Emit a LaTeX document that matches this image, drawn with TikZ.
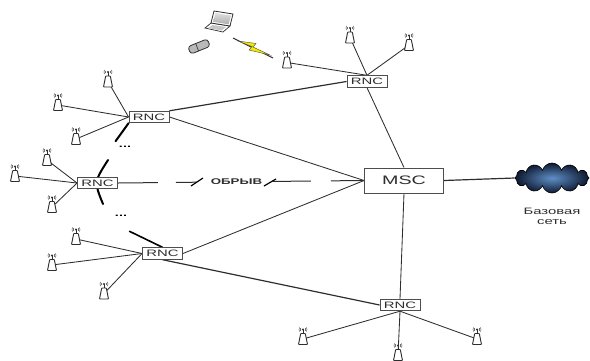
\documentclass[tikz,border=0pt]{standalone}
\usepackage{fontspec}
\newfontfamily\widefont[FakeStretch=1.6]{Liberation Sans}
\usetikzlibrary{positioning,backgrounds,shapes.symbols}

\definecolor{ink}{HTML}{2E2E2E}
\definecolor{stormA}{HTML}{5F8FC8}
\definecolor{stormB}{HTML}{0E1930}
\definecolor{bolt}{HTML}{F4E800}

\begin{document}
\begin{tikzpicture}[x=1pt,y=-1pt,
  rnc/.style={draw=ink!85,fill=white,line width=.9pt,minimum width=40pt,minimum height=11.5pt,
    inner sep=0pt,text=ink,font=\widefont\fontsize{9.3}{10}\selectfont},
  link/.style={draw=ink,line width=.85pt},
  trunk/.style={draw=ink,line width=1.2pt},
  cut/.style={draw=black,line width=2pt,line cap=round},
  ant/.pic={
    \coordinate (-c) at (0,0);
    \draw[ink,line width=.9pt,fill=white,rounded corners=.6pt]
      (-2.3,-5.5) -- (2.3,-5.5) -- (4.5,5.5) -- (-4.5,5.5) -- cycle;
    \draw[ink,line width=1pt] (0,-5.5) -- (0,-9.5);
    \fill[ink] (0,-9.5) circle (1.2);
    \foreach \r in {2.6,4}{
      \draw[ink!70,line width=.6pt] (0,-9.5) ++(150:\r) arc (150:210:\r);
      \draw[ink!70,line width=.6pt] (0,-9.5) ++(-30:\r) arc (-30:30:\r);
    }
  }]
  \useasboundingbox (0,0) rectangle (590,360);

  % core and network
  \node[draw=ink!85,fill=white,line width=.9pt,minimum width=79pt,minimum height=25pt,
    text=ink,font=\widefont\fontsize{12.3}{13}\selectfont] (msc) at (404,180.5) {MSC};
  \node[cloud,cloud puffs=12,aspect=2.6,minimum width=74pt,minimum height=30pt,inner sep=0pt,
    draw=black,line width=.6pt,inner color=stormA,outer color=stormB] (net) at (552,178) {};
  \node[below=11pt of net,align=center,text=ink,
    font=\widefont\fontsize{9.3}{10.5}\selectfont] (lbl) {Базовая\\сеть};

  % controllers
  \node[rnc] (rt) at (367,81.5) {RNC};
  \node[rnc] (rl) at (149,117) {RNC};
  \node[rnc] (rm) at (97.5,183) {RNC};
  \node[rnc] (rb) at (162.5,253.5) {RNC};
  \node[rnc] (rd) at (400,305) {RNC};

  % base stations
  \pic (t1) at (350,37.5) {ant};
  \pic (t2) at (409,45) {ant};
  \pic (t3) at (287,62.5) {ant};
  \pic (l1) at (108,81.5) {ant};
  \pic (l2) at (58,105) {ant};
  \pic (l3) at (76,139) {ant};
  \pic (m1) at (47,160) {ant};
  \pic (m2) at (15,176) {ant};
  \pic (m3) at (52,207) {ant};
  \pic (b1) at (76,239) {ant};
  \pic (b2) at (52,265) {ant};
  \pic (b3) at (104,293.5) {ant};
  \pic (d1) at (303,339) {ant};
  \pic (d2) at (398,355) {ant};
  \pic (d3) at (477,339) {ant};

  % terminals
  \draw[ink,line width=.7pt,fill=white] (211,23) -- (230,26) -- (223,32) -- (205,28) -- cycle;
  \fill[gray!45] (212.5,25) -- (226,27) -- (221.5,30.5) -- (208,28) -- cycle;
  \draw[ink,line width=.8pt,fill=white] (214,11) -- (233,14) -- (230,26) -- (211,23) -- cycle;
  \shade[top color=gray!25,bottom color=gray!65] (215.5,13) -- (231,15.5) -- (228.7,24.3) -- (213,21.8) -- cycle;
  \draw[ink,line width=.8pt,fill=gray!55,rounded corners=3pt,rotate around={22:(199,46.5)}]
    (188.5,42.5) rectangle (209.5,50.5);
  \draw[ink,line width=.6pt,rotate around={22:(199,46.5)}] (197,42.5) -- (197,50.5);
  \coordinate (ue) at (233,38);
  \coordinate (air) at (273,58);
  \draw[link,line width=1pt] (ue) -- (air);
  \draw[black!70,line width=.4pt,fill=bolt]
    (238,41) -- (256,43.5) -- (253,47) -- (270,55) -- (249,50) -- (252,46.5) -- cycle;

  % break marks on the cut trunk
  \node[text=ink,font=\widefont\bfseries\fontsize{8.3}{9}\selectfont] (brk) at (236.5,181.5) {ОБРЫВ};
  \draw[black,line width=1.2pt] (191,186) -- (203,178);
  \draw[black,line width=1.2pt] (264,186) -- (276,179);
  \node[font=\widefont\bfseries\fontsize{9}{9}\selectfont] (dt1) at (125,147) {...};
  \node[font=\widefont\bfseries\fontsize{9}{9}\selectfont] (dt2) at (121,216) {...};

  \begin{scope}[on background layer]
    \foreach \a in {t1,t2,t3} \draw[link] (rt.north) -- (\a-c);
    \foreach \a in {l1,l2,l3} \draw[link] (rl.west) -- (\a-c);
    \foreach \a in {m1,m2,m3} \draw[link] (rm.west) -- (\a-c);
    \foreach \a in {b1,b2,b3} \draw[link] (rb.west) -- (\a-c);
    \foreach \a in {d1,d2,d3} \draw[link] (rd.south) -- (\a-c);
    \draw[trunk] (rt.west) -- (rl.north east);
    \draw[link] (rt.south) -- (msc.north);
    \draw[link] (rl.east) -- (msc.west);
    \draw[link] (rb.east) -- (msc.west);
    \draw[link,line width=1pt,dash pattern=on 40pt off 18pt on 21pt off 76pt on 38pt off 20pt on 40pt]
      (rm.east) -- (msc.west);
    \draw[trunk] (rb.south) -- (rd.west);
    \draw[link] (msc.south) -- (rd.north);
    \draw[trunk] (msc.east) -- (net.west);
    \draw[cut] (rl.south west) -- ++(-13,18);
    \draw[cut] (108,160) .. controls (94,182) .. (103,204);
    \draw[cut,line width=1.6pt] (rb.north) -- ++(-33,-16);
  \end{scope}
\end{tikzpicture}
\end{document}
